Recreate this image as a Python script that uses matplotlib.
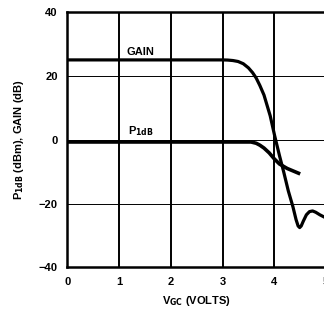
import matplotlib
matplotlib.use("Agg")
import matplotlib.pyplot as plt

plt.rcParams["font.family"] = ["Liberation Sans", "DejaVu Sans"]
plt.rcParams["font.weight"] = "bold"
plt.rcParams["mathtext.default"] = "bf"

# gain curve
gain_v = [0.0, 3.0, 3.1, 3.2, 3.3, 3.4, 3.5, 3.58, 3.65, 3.72, 3.8, 3.92,
          4.01, 4.1, 4.18, 4.27, 4.36, 4.42, 4.46, 4.49, 4.52, 4.56, 4.62,
          4.68, 4.74, 4.8, 4.88, 5.0]
gain_db = [25, 25, 24.95, 24.8, 24.5, 23.8, 22.5, 21, 19.3, 17, 14, 7.5,
           1, -5, -10, -16, -21, -25, -27, -27.5, -27, -25.5, -23.5,
           -22.5, -22.3, -22.7, -23.5, -24.5]

# P1dB curve
p1db_v = [0.0, 3.55, 3.65, 3.72, 3.8, 3.9, 4.0, 4.1, 4.25, 4.5]
p1db_dbm = [-0.7, -0.7, -1.1, -1.7, -2.6, -4.1, -6, -7.6, -9, -10.7]

x_ticks = [0, 1, 2, 3, 4, 5]
y_ticks = [-40, -20, 0, 20, 40]

fig = plt.figure(figsize=(3.24, 3.11), dpi=100)
ax = fig.add_axes([0.2083, 0.1399, 0.798, 0.8215])

for v in x_ticks[1:-1]:
    ax.axvline(v, color="black", lw=1.4, zorder=1)
for y in y_ticks[1:-1]:
    ax.axhline(y, color="black", lw=0.7, zorder=1)

ax.plot(gain_v, gain_db, color="black", lw=2.3, solid_capstyle="butt",
        solid_joinstyle="round", zorder=3)
ax.plot(p1db_v, p1db_dbm, color="black", lw=2.6, solid_capstyle="butt",
        solid_joinstyle="round", zorder=3)

ax.text(1.15, 27.4, "GAIN", fontsize=8, fontweight="bold", va="center", ha="left")
ax.text(1.17, 2.6, r"P$_{1dB}$", fontsize=8, fontweight="bold", va="center", ha="left")

ax.set_xlim(0, 5)
ax.set_ylim(-40, 40)
ax.set_xticks(x_ticks)
ax.set_yticks(y_ticks)
ax.tick_params(length=0, labelsize=8, pad=7)
for lbl in ax.get_xticklabels() + ax.get_yticklabels():
    lbl.set_fontweight("bold")

for s in ax.spines.values():
    s.set_linewidth(1.8)

ax.set_xlabel(r"V$_{GC}$ (VOLTS)", fontsize=8, fontweight="bold", labelpad=5)
ax.set_ylabel(r"P$_{1dB}$ (dBm), GAIN (dB)", fontsize=8, fontweight="bold", labelpad=9)

fig.savefig("out.png", dpi=100)
